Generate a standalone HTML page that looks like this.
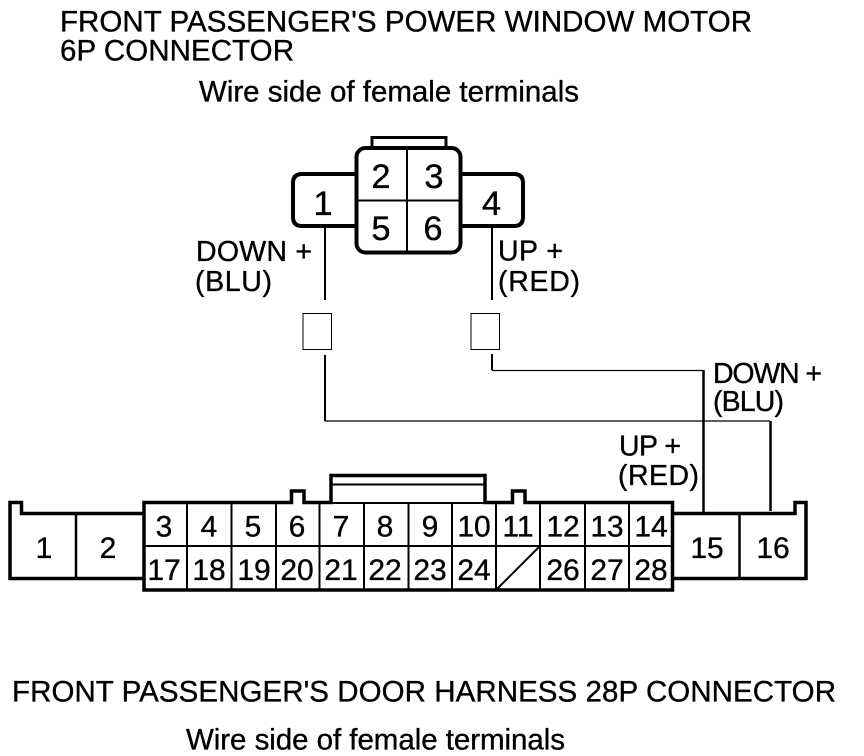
<!DOCTYPE html>
<html><head><meta charset="utf-8"><style>
html,body{margin:0;padding:0;background:#fff}
svg{display:block}
text{font-family:"Liberation Sans",Arial,sans-serif;fill:#000;stroke:#000;stroke-width:.35px}
.t{font-size:29.5px}
.n{font-size:30px;text-anchor:middle}
.b{font-size:34.5px;text-anchor:middle}
.l{font-size:28.5px}
</style></head><body>
<svg width="864" height="756" viewBox="0 0 864 756" xmlns="http://www.w3.org/2000/svg">
<rect width="864" height="756" fill="#fff"/>
<text class="t" x="60" y="31.500" textLength="692">FRONT PASSENGER'S POWER WINDOW MOTOR</text>
<text class="t" x="60" y="60.500" textLength="234">6P CONNECTOR</text>
<text class="t" x="199" y="101.500" textLength="380">Wire side of female terminals</text>
<text class="t" x="12" y="701.500" textLength="824">FRONT PASSENGER'S DOOR HARNESS 28P CONNECTOR</text>
<text class="t" x="186" y="749.500" textLength="379">Wire side of female terminals</text>

<g fill="none" stroke="#000">
<!-- 6P connector -->
<path d="M372 147V137.500H446V147" stroke-width="3"/>
<rect x="356.500" y="148" width="104" height="104.500" rx="9" stroke-width="4"/>
<path d="M407 148V252.500M357 200.500H460" stroke-width="2"/>
<path d="M356 174H302Q293 174 293 183V217Q293 226 302 226H356" stroke-width="4"/>
<path d="M461 174H514Q523 174 523 183V217Q523 226 514 226H461" stroke-width="4"/>
<!-- wires -->
<path d="M325 227V300M492 227V300" stroke-width="2"/>
<rect x="303" y="313.500" width="28.500" height="36" stroke-width="1"/>
<rect x="471" y="313.500" width="28.500" height="36" stroke-width="1"/>
<path d="M325 355V421" stroke-width="2"/>
<path d="M492 354V370" stroke-width="2"/>
<path d="M492 370.500H703M325 421H770" stroke-width="1.200"/>
<path d="M703.500 370V513M770.500 421V511" stroke-width="2.500"/>

<!-- 28P connector -->
<path d="M143.500 513.500H21.500V502.500H10V578.500H143.500" stroke-width="3.500"/>
<path d="M673 513.500H795V502.500H806V578.500H673" stroke-width="3.500"/>
<path d="M76 513V578M739.500 513V578" stroke-width="2.500"/>
<path d="M144 590V502.500H291.500V491H304V502.500H331V475.500H485V502.500H512.500V491H525V502.500H672.500V590Z" stroke-width="3.500"/>
<path d="M332 484.500H484" stroke-width="2"/>
<path d="M144 546H672M187 503V590M231.500 503V590M276 503V590M319.500 503V590M364 503V590M408.500 503V590M452 503V590M496 503V590M540 503V590M585 503V590M629 503V590" stroke-width="2"/>
<path d="M330 503H486" stroke-width="2"/>
<path d="M497 589L540 546" stroke-width="2"/>
</g>

<!-- 6P numbers -->
<text class="b" x="381" y="188">2</text>
<text class="b" x="434" y="188">3</text>
<text class="b" x="381" y="240">5</text>
<text class="b" x="433" y="240">6</text>
<text class="b" x="323" y="215">1</text>
<text class="b" x="491.500" y="215">4</text>

<!-- wire labels -->
<text class="l" x="196" y="261" textLength="116">DOWN +</text>
<text class="l" x="195" y="291" textLength="77">(BLU)</text>
<text class="l" x="498" y="260.500" textLength="65">UP +</text>
<text class="l" x="498" y="291" textLength="82">(RED)</text>
<text class="l" x="713" y="383" textLength="109">DOWN +</text>
<text class="l" x="713" y="411" textLength="71">(BLU)</text>
<text class="l" x="619" y="455.500" textLength="62">UP +</text>
<text class="l" x="618" y="485" textLength="81">(RED)</text>

<!-- 28P numbers -->
<text class="n" x="44" y="558">1</text>
<text class="n" x="108" y="558">2</text>
<text class="n" x="707" y="558">15</text>
<text class="n" x="773" y="558">16</text>
<text class="n" x="164" y="536.500">3</text>
<text class="n" x="209" y="536.500">4</text>
<text class="n" x="253" y="536.500">5</text>
<text class="n" x="297" y="536.500">6</text>
<text class="n" x="341" y="536.500">7</text>
<text class="n" x="385" y="536.500">8</text>
<text class="n" x="430" y="536.500">9</text>
<text class="n" x="474" y="536.500">10</text>
<text class="n" x="518" y="536.500">11</text>
<text class="n" x="563" y="536.500">12</text>
<text class="n" x="607" y="536.500">13</text>
<text class="n" x="651" y="536.500">14</text>
<text class="n" x="164" y="580">17</text>
<text class="n" x="209" y="580">18</text>
<text class="n" x="254" y="580">19</text>
<text class="n" x="297" y="580">20</text>
<text class="n" x="341" y="580">21</text>
<text class="n" x="385" y="580">22</text>
<text class="n" x="430" y="580">23</text>
<text class="n" x="474" y="580">24</text>
<text class="n" x="563" y="580">26</text>
<text class="n" x="607" y="580">27</text>
<text class="n" x="651" y="580">28</text>
</svg>
</body></html>
